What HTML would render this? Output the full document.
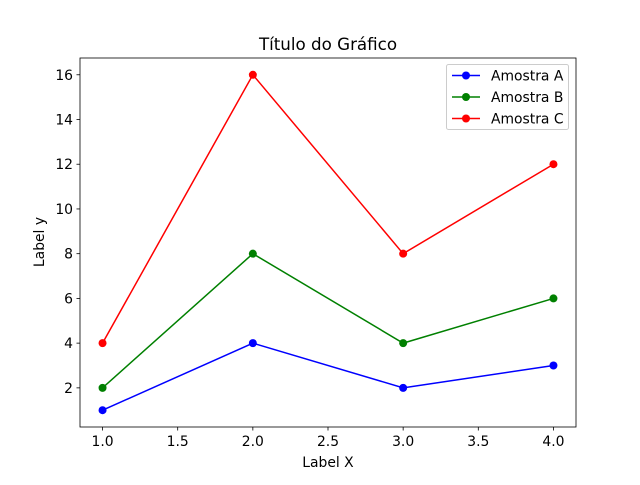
<!DOCTYPE html>
<html><head><meta charset="utf-8"><style>
body{margin:0;background:#fff}
svg text{font-family:"DejaVu Sans","Liberation Sans",sans-serif;fill:#000}
</style></head><body>
<svg width="640" height="480">
<rect width="640" height="480" fill="#fff"/>
<g id="plot"></g>
</svg>
<script>
const xValues=[1,2,3,4];
const seriesNames=["Amostra A","Amostra B","Amostra C"];
const seriesA=[1,4,2,3];
const seriesB=[2,8,4,6];
const seriesC=[4,16,8,12];
const xTicks=[1.0,1.5,2.0,2.5,3.0,3.5,4.0];
const yTicks=[2,4,6,8,10,12,14,16];
const colors=["#0000ff","#008000","#ff0000"];
const L=80,R=576,T=58,B=427;
const xmin=0.85,xmax=4.15,ymin=0.25,ymax=16.75;
const sx=v=>L+(v-xmin)/(xmax-xmin)*(R-L);
const sy=v=>B-(v-ymin)/(ymax-ymin)*(B-T);
const NS="http://www.w3.org/2000/svg";
const g=document.getElementById('plot');
function mk(t,a,txt){const e=document.createElementNS(NS,t);for(const k in a)e.setAttribute(k,a[k]);if(txt!==undefined)e.textContent=txt;g.appendChild(e);return e;}
[seriesA,seriesB,seriesC].forEach((s,i)=>{
 const pl=mk('polyline',{points:s.map((v,j)=>sx(xValues[j])+','+sy(v)).join(' '),fill:'none',stroke:colors[i],'stroke-width':1.5});
 
 
 s.forEach((v,j)=>{const c=mk('circle',{cx:sx(xValues[j]),cy:sy(v),r:4,fill:colors[i]});
 
 });
});
const frame=mk('rect',{x:L,y:T,width:R-L,height:B-T,fill:'none',stroke:'#000','stroke-width':0.8});


xTicks.forEach(t=>{mk('line',{x1:sx(t),x2:sx(t),y1:B,y2:B+3.5,stroke:'#000','stroke-width':0.8});
 const tx=mk('text',{x:sx(t),y:B+19,'text-anchor':'middle','font-size':13.9},t.toFixed(1));
 
 });
yTicks.forEach(t=>{mk('line',{x1:L-3.5,x2:L,y1:sy(t),y2:sy(t),stroke:'#000','stroke-width':0.8});
 const tx=mk('text',{x:L-7,y:sy(t)+5,'text-anchor':'end','font-size':13.9},String(t));
 
 });
let e=mk('text',{x:328,y:50,'text-anchor':'middle','font-size':16.7},'Título do Gráfico');

e=mk('text',{x:328,y:467,'text-anchor':'middle','font-size':13.9},'Label X');

e=mk('text',{x:44,y:242,'text-anchor':'middle','font-size':13.9,transform:'rotate(-90 44 242)'},'Label y');

e=mk('rect',{x:446.5,y:64.5,width:122,height:65,rx:2,fill:'#fff',stroke:'#ccc','stroke-width':1});

seriesNames.forEach((n,i)=>{const y=75.5+i*21.5;
 mk('line',{x1:452,x2:480,y1:y,y2:y,stroke:colors[i],'stroke-width':1.5});
 mk('circle',{cx:466,cy:y,r:4,fill:colors[i]});
 const t=mk('text',{x:491,y:y+5,'font-size':13.9},n);
 
 });
</script>
</body></html>
